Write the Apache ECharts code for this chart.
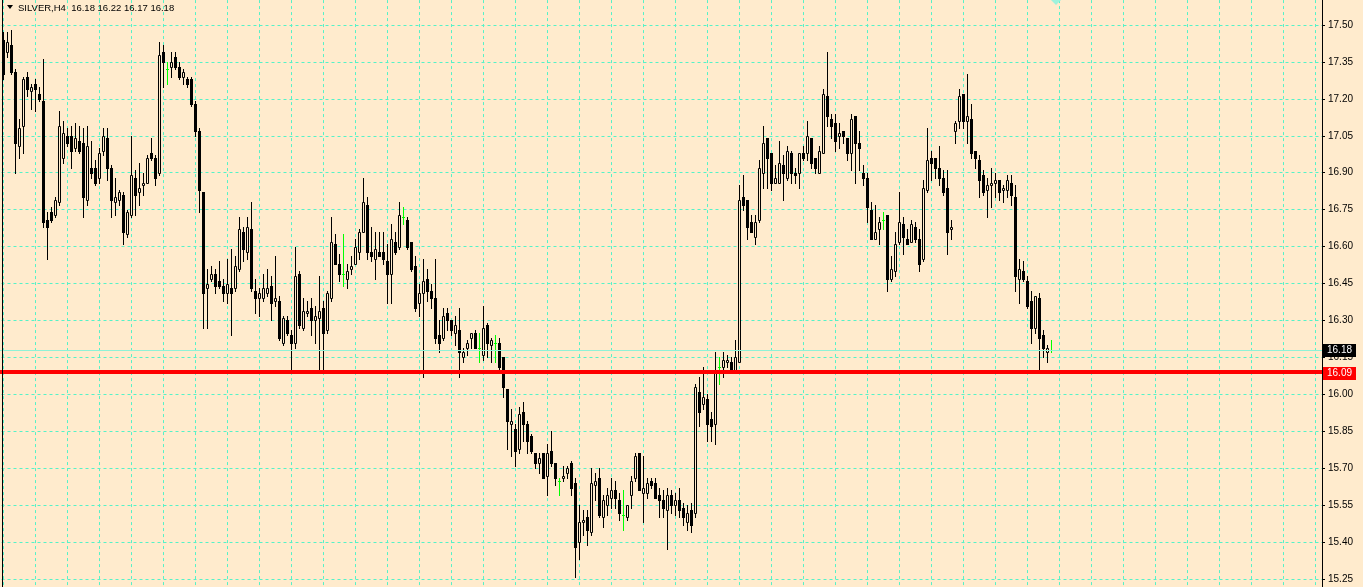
<!DOCTYPE html>
<html>
<head>
<meta charset="utf-8">
<script src="https://cdn.jsdelivr.net/npm/echarts@6/dist/echarts.min.js"></script>
<style>
html,body{margin:0;padding:0;background:#ffebcd;width:1363px;height:587px;overflow:hidden;position:relative;}
#chart{position:absolute;left:-29px;top:-12px;width:1392px;height:628px;}
</style>
</head>
<body>
<div id="chart"></div>
<script>
// ---- DATA (SILVER, H4) ----
const symbolName = 'SILVER,H4';
const opens = [
17.44,17.39,17.42,17.31,17.01,17.09,17.29,17.23,17.26,17.22,
17.19,16.71,16.74,16.73,16.78,16.96,17.05,17.05,17.00,17.03,
17.02,16.79,16.92,16.92,16.88,16.99,17.04,16.92,16.78,16.79,
16.81,16.65,16.73,16.88,16.82,16.85,16.86,16.98,16.96,16.90,
17.39,17.32,17.33,17.37,17.33,17.29,17.28,17.28,17.18,17.07,
16.82,16.43,16.47,16.49,16.46,16.44,16.41,16.43,16.43,16.51,
16.66,16.58,16.67,16.42,16.39,16.39,16.41,16.44,16.38,16.38,
16.21,16.30,16.24,16.21,16.49,16.27,16.33,16.35,16.30,16.31,
16.35,16.26,16.39,16.61,16.53,16.49,16.47,16.51,16.53,16.58,
16.66,16.77,16.58,16.55,16.58,16.58,16.54,16.49,16.62,16.60,
16.72,16.71,16.62,16.52,16.37,16.41,16.47,16.42,16.39,16.24,
16.23,16.33,16.30,16.25,16.26,16.15,16.19,16.23,16.25,16.19,
16.16,16.28,16.20,16.21,16.21,16.15,16.02,15.88,15.86,15.78,
15.93,15.88,15.83,15.76,15.72,15.76,15.67,15.77,15.72,15.65,
15.66,15.68,15.72,15.64,15.40,15.48,15.50,15.44,15.63,15.66,
15.50,15.55,15.58,15.61,15.57,15.51,15.50,15.59,15.66,15.76,
15.60,15.60,15.65,15.64,15.59,15.57,15.53,15.59,15.55,15.57,
15.54,15.48,15.53,15.52,16.01,15.96,15.98,15.90,15.88,16.11,
16.11,16.13,16.13,16.10,16.13,16.80,16.79,16.70,16.64,16.71,
16.90,17.04,16.98,16.86,16.86,16.93,16.88,16.98,16.90,16.90,
16.98,16.98,17.04,16.96,16.90,16.98,17.21,17.12,17.10,17.05,
17.07,17.04,16.98,17.13,17.02,16.90,16.88,16.75,16.63,16.67,
16.71,16.73,16.47,16.50,16.62,16.69,16.63,16.62,16.68,16.63,
16.55,16.83,16.96,16.96,16.92,16.88,16.84,16.67,17.07,17.11,
17.22,17.11,17.12,16.99,16.95,16.89,16.83,16.85,16.86,16.87,
16.83,16.83,16.86,16.80,16.47,16.50,16.46,16.38,16.27,16.39,
16.24,16.17,16.18];
const highs = [
17.47,17.47,17.48,17.32,17.12,17.29,17.31,17.26,17.28,17.25,
17.36,16.74,16.76,16.80,17.15,17.11,17.08,17.09,17.10,17.09,
17.08,17.09,17.03,16.95,17.00,17.08,17.08,16.93,16.88,16.83,
16.82,16.75,17.05,16.91,16.94,16.90,16.97,17.04,16.97,17.43,
17.42,17.35,17.39,17.39,17.35,17.32,17.29,17.29,17.19,17.08,
16.82,16.51,16.52,16.51,16.54,16.47,16.55,16.59,16.56,16.72,
16.68,16.72,16.78,16.47,16.43,16.49,16.51,16.48,16.56,16.40,
16.32,16.32,16.26,16.60,16.50,16.39,16.38,16.39,16.36,16.48,
16.38,16.42,16.72,16.65,16.57,16.65,16.53,16.56,16.63,16.67,
16.88,16.80,16.68,16.66,16.66,16.66,16.61,16.69,16.66,16.78,
16.76,16.72,16.62,16.56,16.45,16.55,16.51,16.45,16.55,16.30,
16.35,16.35,16.30,16.32,16.35,16.19,16.22,16.25,16.26,16.25,
16.36,16.29,16.23,16.24,16.23,16.15,16.02,15.94,15.88,15.95,
15.97,15.89,15.84,15.76,15.76,15.76,15.80,15.85,15.72,15.66,
15.71,15.71,15.73,15.66,15.55,15.53,15.53,15.70,15.68,15.70,
15.59,15.62,15.66,15.65,15.60,15.61,15.55,15.67,15.76,15.76,
15.75,15.66,15.66,15.66,15.62,15.61,15.62,15.61,15.60,15.62,
15.56,15.55,15.56,16.04,16.07,16.11,16.00,15.93,16.17,16.15,
16.17,16.16,16.15,16.22,16.85,16.89,16.79,16.73,16.73,16.95,
17.09,17.04,16.98,16.93,17.03,16.97,17.01,16.99,16.92,16.98,
17.01,17.11,17.04,16.96,17.01,17.24,17.39,17.14,17.14,17.10,
17.07,17.04,17.14,17.13,17.07,16.93,16.90,16.78,16.77,16.72,
16.74,16.73,16.56,16.66,16.82,16.72,16.67,16.71,16.70,16.67,
16.87,17.08,16.99,16.96,17.01,16.91,16.91,16.71,17.11,17.24,
17.22,17.30,17.18,16.99,16.97,16.91,16.88,16.92,16.90,16.87,
16.85,16.89,16.89,16.85,16.55,16.54,16.48,16.42,16.40,16.41,
16.26,16.20,16.22];
const lows = [
17.28,17.37,17.30,16.90,16.96,16.98,17.21,17.16,17.15,17.19,
16.68,16.55,16.70,16.72,16.77,16.94,17.01,16.92,16.99,16.98,
16.72,16.77,16.88,16.85,16.86,16.97,16.87,16.72,16.73,16.77,
16.61,16.64,16.72,16.73,16.77,16.81,16.86,16.95,16.85,16.89,
17.25,17.26,17.29,17.32,17.28,17.26,17.25,17.17,17.05,16.74,
16.27,16.27,16.46,16.41,16.43,16.38,16.37,16.24,16.42,16.50,
16.54,16.55,16.42,16.33,16.32,16.38,16.40,16.30,16.36,16.22,
16.20,16.24,16.09,16.19,16.27,16.26,16.32,16.24,16.21,16.09,
16.09,16.25,16.38,16.53,16.46,16.44,16.43,16.49,16.53,16.55,
16.66,16.55,16.54,16.47,16.56,16.53,16.37,16.37,16.57,16.59,
16.69,16.59,16.50,16.34,16.32,16.07,16.38,16.35,16.21,16.17,
16.22,16.26,16.24,16.20,16.07,16.13,16.16,16.19,16.19,16.13,
16.14,16.15,16.13,16.13,16.09,15.99,15.78,15.75,15.71,15.76,
15.81,15.76,15.76,15.70,15.68,15.66,15.59,15.71,15.63,15.59,
15.65,15.66,15.59,15.26,15.33,15.43,15.39,15.43,15.57,15.50,
15.46,15.51,15.54,15.54,15.49,15.45,15.49,15.54,15.65,15.61,
15.48,15.58,15.62,15.58,15.50,15.50,15.37,15.52,15.51,15.50,
15.47,15.45,15.44,15.50,15.87,15.94,15.81,15.81,15.80,16.04,
16.07,16.11,16.10,16.10,16.13,16.75,16.63,16.66,16.61,16.70,
16.84,16.84,16.83,16.86,16.86,16.79,16.87,16.86,16.86,16.84,
16.95,16.95,16.92,16.90,16.90,16.98,17.09,17.04,16.99,17.00,
17.02,16.95,16.91,16.86,16.91,16.85,16.70,16.63,16.63,16.61,
16.67,16.42,16.46,16.48,16.61,16.57,16.61,16.62,16.62,16.50,
16.54,16.82,16.87,16.88,16.85,16.81,16.57,16.63,17.02,17.08,
17.08,17.02,16.96,16.92,16.80,16.81,16.72,16.76,16.80,16.79,
16.78,16.80,16.77,16.42,16.37,16.46,16.35,16.21,16.25,16.10,
16.15,16.13,16.17];
const closes = [
17.30,17.43,17.31,17.02,17.08,17.28,17.24,17.25,17.24,17.20,
16.70,16.68,16.71,16.79,17.09,17.06,17.02,16.99,17.04,16.99,
16.80,17.01,16.90,16.86,16.98,17.05,16.92,16.79,16.80,16.82,
16.66,16.74,16.89,16.81,16.84,16.86,16.96,16.96,16.88,17.38,
17.35,17.32,17.35,17.33,17.29,17.31,17.26,17.18,17.07,16.83,
16.41,16.45,16.49,16.44,16.44,16.41,16.45,16.41,16.52,16.67,
16.59,16.68,16.43,16.39,16.41,16.43,16.43,16.37,16.39,16.23,
16.31,16.25,16.21,16.48,16.28,16.34,16.34,16.30,16.32,16.34,
16.25,16.41,16.62,16.53,16.49,16.49,16.50,16.52,16.60,16.66,
16.78,16.58,16.56,16.59,16.56,16.55,16.49,16.63,16.58,16.73,
16.72,16.60,16.51,16.35,16.41,16.46,16.42,16.39,16.23,16.21,
16.32,16.30,16.26,16.28,16.17,16.17,16.21,16.25,16.19,16.19,
16.27,16.21,16.22,16.21,16.11,16.03,15.89,15.89,15.77,15.92,
15.88,15.81,15.77,15.72,15.74,15.66,15.76,15.72,15.66,15.65,
15.67,15.70,15.62,15.38,15.48,15.49,15.45,15.64,15.65,15.51,
15.57,15.59,15.61,15.58,15.52,15.51,15.55,15.65,15.75,15.61,
15.62,15.64,15.63,15.58,15.57,15.54,15.59,15.55,15.57,15.53,
15.50,15.52,15.47,16.03,15.93,15.99,15.88,15.87,16.09,16.11,
16.14,16.14,16.10,16.15,16.79,16.77,16.68,16.66,16.70,16.92,
17.02,16.96,16.86,16.88,16.94,16.90,16.99,16.90,16.89,16.98,
16.96,17.05,16.94,16.92,16.99,17.22,17.13,17.09,17.03,17.06,
17.05,16.98,17.12,17.02,17.00,16.88,16.76,16.63,16.66,16.70,
16.71,16.47,16.51,16.61,16.70,16.64,16.61,16.69,16.63,16.53,
16.84,16.95,16.94,16.92,16.88,16.82,16.66,16.68,17.10,17.21,
17.11,17.13,16.98,16.96,16.87,16.82,16.85,16.86,16.87,16.82,
16.84,16.87,16.81,16.48,16.51,16.47,16.36,16.27,16.40,16.23,
16.19,16.19,16.18];
const levelLine = 16.087;      // red horizontal level
const levelLabel = '16.09';
// ---------------------------

const BG = '#ffebcd';
const GRID = '#55f2c8';
const BIDLINE = '#8ff2d6';
const DOJI = '#00ff00';
const FONT = '"Liberation Sans", Arial, sans-serif';
// the chart container is shifted by (-29, -12) so that axis ends fall on tick values
const OX = 29, OY = 12;

const n = closes.length;
const last = n - 1;
const candles = opens.map((o, i) => [i, o, highs[i], lows[i], closes[i]]);

function renderItem(params, api) {
  const k = api.value(0), o = api.value(1), h = api.value(2), l = api.value(3), c = api.value(4);
  const pO = api.coord([k, o]), pH = api.coord([k, h]), pL = api.coord([k, l]), pC = api.coord([k, c]);
  const xi = Math.floor(pO[0] + 0.001);
  const yH = Math.round(pH[1]), yL = Math.round(pL[1]), yO = Math.round(pO[1]), yC = Math.round(pC[1]);
  const kids = [];
  if (o === c) {
    kids.push({type: 'rect', shape: {x: xi, y: yH, width: 1, height: yL - yH + 1}, style: {fill: DOJI}});
    kids.push({type: 'rect', shape: {x: xi - 1, y: yO, width: 3, height: 1}, style: {fill: DOJI}});
  } else {
    kids.push({type: 'rect', shape: {x: xi, y: yH, width: 1, height: yL - yH + 1}, style: {fill: '#000'}});
    const top = Math.min(yO, yC), bot = Math.max(yO, yC);
    if (c < o) {
      kids.push({type: 'rect', shape: {x: xi - 1, y: top, width: 3, height: bot - top + 1}, style: {fill: '#000'}});
    } else {
      kids.push({type: 'rect', shape: {x: xi - 0.5, y: top + 0.5, width: 2, height: Math.max(bot - top, 1)},
                 style: {fill: BG, stroke: '#000', lineWidth: 1}});
    }
  }
  return {type: 'group', children: kids, silent: true};
}

const chart = echarts.init(document.getElementById('chart'), null, {renderer: 'canvas'});
chart.setOption({
  animation: false,
  backgroundColor: BG,
  grid: {left: 0.5, right: 41, top: 0.07, bottom: 0.07, containLabel: false, outerBoundsMode: 'none'},
  xAxis: {
    type: 'value', min: -8, max: 329.625, interval: 8,
    axisLine: {show: false}, axisTick: {show: false}, axisLabel: {show: false},
    splitLine: {show: true, lineStyle: {color: GRID, width: 1, type: [3, 3]}}
  },
  yAxis: {
    type: 'value', position: 'right', min: 15.10, max: 17.65, interval: 0.15,
    axisLine: {show: true, onZero: false, lineStyle: {color: '#000', width: 1}},
    axisTick: {show: true, inside: false, length: 3, lineStyle: {color: '#000'}},
    axisLabel: {show: true, color: '#000', fontSize: 10, fontFamily: FONT, margin: 6,
      formatter: v => v.toFixed(2)},
    splitLine: {show: true, lineStyle: {color: GRID, width: 1, type: [3, 3]}}
  },
  series: [
    {
      type: 'line', data: [], silent: true, z: 1,
      markLine: {silent: true, symbol: ['none', 'none'], label: {show: false}, animation: false,
        lineStyle: {color: BIDLINE, width: 1, type: 'solid'},
        data: [{yAxis: closes[last]}]}
    },
    {
      type: 'custom', renderItem: renderItem, data: candles, z: 3, silent: true,
      encode: {x: 0, y: [1, 2, 3, 4]}
    },
    {
      type: 'line', data: [], silent: true, z: 5,
      markLine: {silent: true, symbol: ['none', 'none'], label: {show: false}, animation: false,
        lineStyle: {color: '#ff0000', width: 4, type: 'solid'},
        data: [{yAxis: levelLine}]}
    }
  ]
});

const yLast = Math.round(chart.convertToPixel({yAxisIndex: 0}, closes[last]));
const yLevel = Math.round(chart.convertToPixel({yAxisIndex: 0}, levelLine));
const titleText = symbolName + '  ' + [opens[last], highs[last], lows[last], closes[last]].map(v => v.toFixed(2)).join(' ');

chart.setOption({
  graphic: {elements: [
    {type: 'rect', z: 100, shape: {x: OX + 2, y: 0, width: 1, height: 628}, style: {fill: '#000'}, silent: true},
    {type: 'polygon', z: 100, shape: {points: [[OX + 7, OY + 5], [OX + 13, OY + 5], [OX + 10, OY + 9]]}, style: {fill: '#000'}, silent: true},
    {type: 'text', z: 100, x: OX + 18, y: OY + 8, silent: true,
      style: {text: titleText, font: '9.5px ' + FONT, fill: '#000', verticalAlign: 'middle', textVerticalAlign: 'middle'}},
    {type: 'polygon', z: 100, shape: {points: [[OX + 1051, OY + 0], [OX + 1061, OY + 0], [OX + 1056, OY + 5]]}, style: {fill: '#9ff2dc'}, silent: true},
    {type: 'rect', z: 100, shape: {x: OX + 1323, y: yLast - 6, width: 33, height: 13}, style: {fill: '#000'}, silent: true},
    {type: 'text', z: 101, x: OX + 1327, y: yLast + 0.5, silent: true,
      style: {text: closes[last].toFixed(2), font: '10px ' + FONT, fill: '#fff', verticalAlign: 'middle', textVerticalAlign: 'middle'}},
    {type: 'rect', z: 100, shape: {x: OX + 1323, y: yLevel - 6, width: 33, height: 13}, style: {fill: '#ff0000'}, silent: true},
    {type: 'text', z: 101, x: OX + 1327, y: yLevel + 0.5, silent: true,
      style: {text: levelLabel, font: '10px ' + FONT, fill: '#fff', verticalAlign: 'middle', textVerticalAlign: 'middle'}}
  ]}
});
</script>
</body>
</html>
